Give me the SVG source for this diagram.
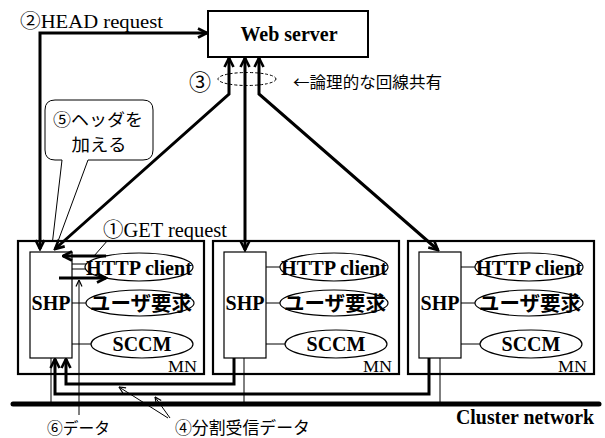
<svg xmlns="http://www.w3.org/2000/svg" width="605" height="438" viewBox="0 0 605 438">
<style>
.box{fill:#fff;stroke:#000;stroke-width:1.2}
.mn{fill:#fff;stroke:#000;stroke-width:2.2}
.ell{fill:#fff;stroke:#000;stroke-width:1.2}
.thin{fill:none;stroke:#000;stroke-width:1}
.thick{fill:none;stroke:#000;stroke-width:3}
.ser{font-family:"Liberation Serif","Noto Sans CJK JP",serif;fill:#000}
.serb{font-family:"Liberation Serif","Noto Sans CJK JP",serif;font-weight:bold;fill:#000}
.jp{font-family:"Noto Sans CJK JP",sans-serif;fill:#000}
.jpb{font-family:"Noto Sans CJK JP",sans-serif;font-weight:bold;fill:#000}
</style>
<defs>
<marker id="ah" viewBox="0 0 12 12" refX="10.5" refY="6" markerWidth="12" markerHeight="12" markerUnits="userSpaceOnUse" orient="auto-start-reverse">
<path d="M1.5,1.5 L10.5,6 L1.5,10.5" fill="none" stroke="#000" stroke-width="2.6"/>
</marker>
<marker id="as" viewBox="0 0 8 8" refX="7.5" refY="4" markerWidth="8" markerHeight="8" markerUnits="userSpaceOnUse" orient="auto">
<path d="M1,1 L7.5,4 L1,7" fill="none" stroke="#000" stroke-width="1.2"/>
</marker>
</defs>
<rect width="605" height="438" fill="#fff"/>

<g id="web-server">
<rect x="208" y="11" width="160" height="46" fill="#fff" stroke="#000" stroke-width="2"/>
<text class="serb" x="289" y="41" font-size="20" text-anchor="middle">Web server</text>
</g>

<g id="callout">
<path d="M62,160 H55 Q45,160 45,150 V110 Q45,100 55,100 H143 Q153,100 153,110 V150 Q153,160 143,160 H88 L50,263 Z" fill="#fff" stroke="#000" stroke-width="1"/>
<text class="jp" x="98" y="126" font-size="17" text-anchor="middle" textLength="90" lengthAdjust="spacingAndGlyphs">⑤ヘッダを</text>
<text class="jp" x="99" y="151" font-size="17" text-anchor="middle" textLength="55" lengthAdjust="spacingAndGlyphs">加える</text>
</g>

<g id="mn1">
<rect class="mn" x="18" y="241" width="186" height="133"/>
<rect class="box" x="30" y="252" width="42" height="106"/>
<text class="serb" x="51" y="310" font-size="20" text-anchor="middle">SHP</text>
<line class="thin" x1="72" y1="264" x2="89" y2="264"/>
<line class="thin" x1="72" y1="269" x2="86" y2="269"/>
<line class="thin" x1="72" y1="303" x2="86" y2="303"/>
<line class="thin" x1="72" y1="344" x2="91" y2="344"/>
<ellipse class="ell" cx="139" cy="267" rx="54" ry="14"/>
<text class="serb" x="139" y="275" font-size="20" text-anchor="middle" textLength="106" lengthAdjust="spacingAndGlyphs">HTTP client</text>
<ellipse class="ell" cx="140" cy="303" rx="54" ry="13"/>
<text class="jpb" x="141" y="311" font-size="20" text-anchor="middle" textLength="102" lengthAdjust="spacingAndGlyphs">ユーザ要求</text>
<ellipse class="ell" cx="142" cy="344" rx="51" ry="14"/>
<text class="serb" x="142" y="351" font-size="20" text-anchor="middle">SCCM</text>
<text class="ser" x="197" y="372" font-size="16" text-anchor="end" textLength="29" lengthAdjust="spacingAndGlyphs">MN</text>
</g>

<g id="mn2">
<rect class="mn" x="213" y="241" width="186" height="133"/>
<rect class="box" x="224" y="252" width="42" height="106"/>
<text class="serb" x="245" y="310" font-size="20" text-anchor="middle">SHP</text>
<line class="thin" x1="266" y1="267" x2="280" y2="267"/>
<line class="thin" x1="266" y1="303" x2="280" y2="303"/>
<line class="thin" x1="266" y1="344" x2="285" y2="344"/>
<ellipse class="ell" cx="334" cy="267" rx="54" ry="14"/>
<text class="serb" x="334" y="275" font-size="20" text-anchor="middle" textLength="106" lengthAdjust="spacingAndGlyphs">HTTP client</text>
<ellipse class="ell" cx="334" cy="303" rx="54" ry="13"/>
<text class="jpb" x="335" y="311" font-size="20" text-anchor="middle" textLength="102" lengthAdjust="spacingAndGlyphs">ユーザ要求</text>
<ellipse class="ell" cx="336" cy="344" rx="51" ry="14"/>
<text class="serb" x="336" y="351" font-size="20" text-anchor="middle">SCCM</text>
<text class="ser" x="392" y="372" font-size="16" text-anchor="end" textLength="29" lengthAdjust="spacingAndGlyphs">MN</text>
</g>

<g id="mn3">
<rect class="mn" x="408" y="241" width="186" height="133"/>
<rect class="box" x="419" y="252" width="42" height="106"/>
<text class="serb" x="440" y="310" font-size="20" text-anchor="middle">SHP</text>
<line class="thin" x1="461" y1="267" x2="475" y2="267"/>
<line class="thin" x1="461" y1="303" x2="475" y2="303"/>
<line class="thin" x1="461" y1="344" x2="480" y2="344"/>
<ellipse class="ell" cx="529" cy="267" rx="54" ry="14"/>
<text class="serb" x="529" y="275" font-size="20" text-anchor="middle" textLength="106" lengthAdjust="spacingAndGlyphs">HTTP client</text>
<ellipse class="ell" cx="529" cy="303" rx="54" ry="13"/>
<text class="jpb" x="530" y="311" font-size="20" text-anchor="middle" textLength="102" lengthAdjust="spacingAndGlyphs">ユーザ要求</text>
<ellipse class="ell" cx="531" cy="344" rx="51" ry="14"/>
<text class="serb" x="531" y="351" font-size="20" text-anchor="middle">SCCM</text>
<text class="ser" x="587" y="372" font-size="16" text-anchor="end" textLength="29" lengthAdjust="spacingAndGlyphs">MN</text>
</g>

<g id="cluster-network">
<line x1="13" y1="404" x2="599" y2="404" stroke="#000" stroke-width="5" stroke-linecap="round"/>
<text class="serb" x="594" y="424" font-size="20" text-anchor="end" textLength="138" lengthAdjust="spacingAndGlyphs">Cluster network</text>
</g>

<g id="connectors">
<path class="thick" d="M40,249 V33 H207" marker-start="url(#ah)" marker-end="url(#ah)"/>
<path class="thick" d="M55,249 L229,94 V58" marker-start="url(#ah)" marker-end="url(#ah)"/>
<path class="thick" d="M245,250 V58" marker-start="url(#ah)" marker-end="url(#ah)"/>
<path class="thick" d="M259,58 V94 L438,250" marker-start="url(#ah)" marker-end="url(#ah)"/>
<ellipse cx="247" cy="79" rx="29" ry="6.5" fill="none" stroke="#000" stroke-width="1" stroke-dasharray="3,2"/>
<path class="thick" d="M106,256 H63" marker-end="url(#ah)"/>
<path class="thick" d="M59,278 H106" marker-end="url(#ah)"/>
<line class="thin" x1="108" y1="240" x2="94" y2="256"/>
<path class="thin" d="M79,415 V280" marker-end="url(#as)"/>
<path class="thick" d="M234,358 V384 H66 V359" marker-end="url(#ah)"/>
<path class="thick" d="M429,358 V394 H55 V359" marker-end="url(#ah)"/>
<line class="thin" x1="51" y1="358" x2="51" y2="404"/>
<line class="thin" x1="244" y1="358" x2="244" y2="404"/>
<line class="thin" x1="440" y1="358" x2="440" y2="404"/>
<path class="thin" d="M168,418 L119,387" marker-end="url(#as)"/>
<path class="thin" d="M170,418 L155,397" marker-end="url(#as)"/>
</g>

<g id="labels">
<text class="ser" x="20" y="28" font-size="19" textLength="143" lengthAdjust="spacingAndGlyphs">②HEAD request</text>
<text class="ser" x="103" y="237" font-size="20" textLength="124" lengthAdjust="spacingAndGlyphs">①GET request</text>
<text class="jp" x="200" y="90" font-size="22" text-anchor="middle">③</text>
<text class="jp" x="293" y="88" font-size="16" textLength="149" lengthAdjust="spacingAndGlyphs">←論理的な回線共有</text>
<text class="jp" x="47" y="434" font-size="16" textLength="63" lengthAdjust="spacingAndGlyphs">⑥データ</text>
<text class="jp" x="175" y="434" font-size="17" textLength="135" lengthAdjust="spacingAndGlyphs">④分割受信データ</text>
</g>
</svg>
